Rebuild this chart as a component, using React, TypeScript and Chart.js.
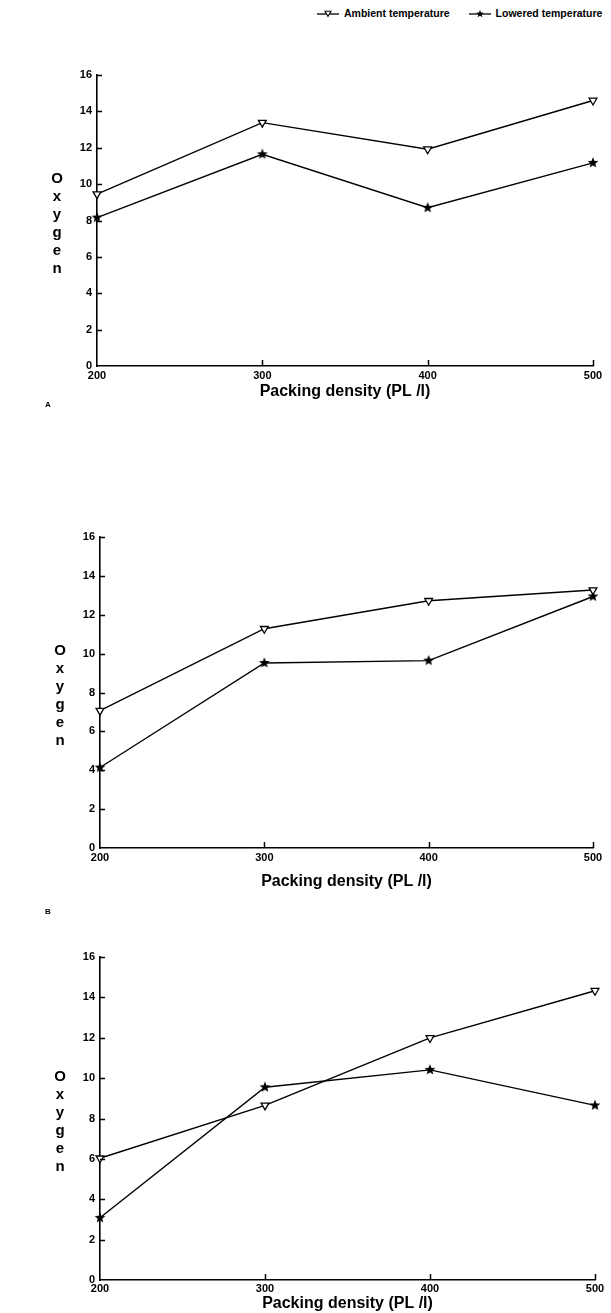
import React, { useEffect, useRef } from 'react';
import { Chart, registerables } from 'chart.js';

Chart.register(...registerables);

// ---- data ----
const densities = [200, 300, 400, 500];
const seriesNames = ['Ambient temperature', 'Lowered temperature'];
const xTitle = 'Packing density (PL /l)';
const yTitle = 'Oxygen';
const panelLetters = ['A', 'B', ''];

const ambientA = [9.45, 13.38, 11.92, 14.6];
const loweredA = [8.16, 11.64, 8.7, 11.17];
const ambientB = [7.07, 11.28, 12.72, 13.27];
const loweredB = [4.14, 9.52, 9.64, 12.94];
const ambientC = [6.03, 8.65, 11.99, 14.33];
const loweredC = [3.08, 9.55, 10.41, 8.65];

const yMin = 0;
const yMax = 16;
const yStep = 2;
const xMin = 200;
const xMax = 500;
const xStep = 100;

const FONT = "'Liberation Sans', Arial, sans-serif";

function makeStar(size: number): HTMLCanvasElement {
  const c = document.createElement('canvas');
  c.width = size;
  c.height = size;
  const ctx = c.getContext('2d')!;
  const cx = size / 2;
  const cy = size / 2;
  const R = size / 2 - 0.3;
  const r = R * 0.42;
  ctx.beginPath();
  for (let i = 0; i < 10; i++) {
    const rad = i % 2 === 0 ? R : r;
    const a = -Math.PI / 2 + (i * Math.PI) / 5;
    const px = cx + rad * Math.cos(a);
    const py = cy + rad * Math.sin(a);
    if (i === 0) ctx.moveTo(px, py);
    else ctx.lineTo(px, py);
  }
  ctx.closePath();
  ctx.fillStyle = '#000';
  ctx.fill();
  return c;
}

const decorPlugin = {
  id: 'decor',
  afterDraw(chart: any) {
    const { ctx, chartArea, scales } = chart;
    const { left, bottom, top } = chartArea;
    const x = scales.x;
    const y = scales.y;
    ctx.save();
    ctx.strokeStyle = '#000';
    ctx.lineWidth = 1.5;
    ctx.beginPath();
    y.ticks.forEach((t: any) => {
      if (t.value === yMin) return;
      const py = Math.round(y.getPixelForValue(t.value)) + 0.5;
      ctx.moveTo(left, py);
      ctx.lineTo(left + 5, py);
    });
    x.ticks.forEach((t: any) => {
      if (t.value === xMin) return;
      const px = Math.round(x.getPixelForValue(t.value)) + 0.5;
      ctx.moveTo(px, bottom);
      ctx.lineTo(px, bottom - 6);
    });
    ctx.stroke();
    // stacked y title
    ctx.fillStyle = '#000';
    ctx.font = `bold 15px ${FONT}`;
    ctx.textAlign = 'center';
    ctx.textBaseline = 'middle';
    const letters = yTitle.split('');
    const lh = 18;
    const cy = (top + bottom) / 2 + 3;
    const start = cy - ((letters.length - 1) * lh) / 2;
    letters.forEach((ch, i) => {
      ctx.fillText(ch, left - 40, start + i * lh);
    });
    ctx.restore();
  },
};

type PanelProps = {
  canvasTop: number;
  canvasHeight: number;
  plotLeft: number;
  plotRight: number;
  plotTop: number;
  plotBottom: number;
  bottomPad: number;
  tickPad: number;
  ambient: number[];
  lowered: number[];
};

function Panel(p: PanelProps) {
  const ref = useRef<HTMLCanvasElement>(null);
  useEffect(() => {
    const star = makeStar(12);
    const bottomPad = p.bottomPad;
    const chart = new Chart(ref.current!, {
      type: 'line',
      data: {
        datasets: [
          {
            label: seriesNames[0],
            data: densities.map((d, i) => ({ x: d, y: p.ambient[i] })),
            borderColor: '#000',
            borderWidth: 1.4,
            pointStyle: 'triangle',
            rotation: 180,
            pointRadius: 4.5,
            pointBackgroundColor: '#fff',
            pointBorderColor: '#000',
            pointBorderWidth: 1.3,
            tension: 0,
            clip: false,
          },
          {
            label: seriesNames[1],
            data: densities.map((d, i) => ({ x: d, y: p.lowered[i] })),
            borderColor: '#000',
            borderWidth: 1.4,
            pointStyle: star as any,
            pointRadius: 6,
            tension: 0,
            clip: false,
          },
        ],
      },
      options: {
        animation: false,
        responsive: false,
        maintainAspectRatio: false,
        events: [],
        layout: {
          padding: {
            left: 0,
            right: 611 - p.plotRight,
            top: p.plotTop - p.canvasTop,
            bottom: bottomPad,
          },
        },
        plugins: {
          legend: { display: false },
          tooltip: { enabled: false },
        },
        scales: {
          x: {
            type: 'linear',
            min: xMin,
            max: xMax,
            offset: false,
            afterFit(scale: any) {
              scale.height = p.canvasTop + p.canvasHeight - bottomPad - p.plotBottom;
            },
            grid: { display: true, drawOnChartArea: false, drawTicks: false, color: 'rgba(0,0,0,0)' },
            border: { display: true, color: '#000', width: 1.6 },
            ticks: {
              stepSize: xStep,
              color: '#000',
              padding: p.tickPad,
              maxRotation: 0,
              font: { family: FONT, size: 11, weight: 'bold' },
            },
            title: {
              display: true,
              text: xTitle,
              color: '#000',
              padding: { top: 0, bottom: 0 },
              font: { family: FONT, size: 16, weight: 'bold' },
            },
          },
          y: {
            min: yMin,
            max: yMax,
            afterFit(scale: any) {
              scale.width = p.plotLeft;
            },
            grid: { display: true, drawOnChartArea: false, drawTicks: false, color: 'rgba(0,0,0,0)' },
            border: { display: true, color: '#000', width: 1.6 },
            ticks: {
              stepSize: yStep,
              color: '#000',
              padding: 5,
              font: { family: FONT, size: 11, weight: 'bold' },
            },
          },
        },
      },
      plugins: [decorPlugin],
    });
    return () => chart.destroy();
  }, []);
  return (
    <canvas
      ref={ref}
      width={611}
      height={p.canvasHeight}
      style={{ position: 'absolute', left: 0, top: p.canvasTop, width: 611, height: p.canvasHeight }}
    />
  );
}

function LegendIcon({ kind }: { kind: 'tri' | 'star' }) {
  const starPts: string[] = [];
  for (let i = 0; i < 10; i++) {
    const rad = i % 2 === 0 ? 4 : 1.7;
    const a = -Math.PI / 2 + (i * Math.PI) / 5;
    starPts.push(`${11 + rad * Math.cos(a)},${6 + rad * Math.sin(a)}`);
  }
  return (
    <svg width={22} height={12} style={{ verticalAlign: 'middle', marginRight: 5 }}>
      <line x1={0} y1={6} x2={22} y2={6} stroke="#000" strokeWidth={1.3} />
      {kind === 'tri' ? (
        <polygon points="8,3.2 14,3.2 11,8.5" fill="#fff" stroke="#000" strokeWidth={1.1} />
      ) : (
        <polygon points={starPts.join(' ')} fill="#000" />
      )}
    </svg>
  );
}

export default function App() {
  return (
    <div style={{ position: 'absolute', left: 0, top: 0, width: 611, height: 1313, background: '#fff', overflow: 'hidden' }}>
      <div
        style={{
          position: 'absolute',
          left: 317,
          top: 6,
          fontFamily: FONT,
          fontWeight: 'bold',
          fontSize: 10.5,
          color: '#000',
          whiteSpace: 'nowrap',
          lineHeight: '14px',
        }}
      >
        <LegendIcon kind="tri" />
        <span>{seriesNames[0]}</span>
        <span style={{ display: 'inline-block', width: 19 }} />
        <LegendIcon kind="star" />
        <span>{seriesNames[1]}</span>
      </div>
      <Panel canvasTop={45} canvasHeight={358} plotLeft={97} plotRight={593} plotTop={75} plotBottom={366} bottomPad={2} tickPad={3} ambient={ambientA} lowered={loweredA} />
      <div style={{ position: 'absolute', left: 45, top: 400, fontFamily: FONT, fontWeight: 'bold', fontSize: 8 }}>{panelLetters[0]}</div>
      <Panel canvasTop={505} canvasHeight={388} plotLeft={100} plotRight={593} plotTop={537} plotBottom={848} bottomPad={2} tickPad={3} ambient={ambientB} lowered={loweredB} />
      <div style={{ position: 'absolute', left: 45, top: 907, fontFamily: FONT, fontWeight: 'bold', fontSize: 8 }}>{panelLetters[1]}</div>
      <Panel canvasTop={925} canvasHeight={388} plotLeft={100} plotRight={595} plotTop={957} plotBottom={1280} bottomPad={0} tickPad={2} ambient={ambientC} lowered={loweredC} />
    </div>
  );
}
